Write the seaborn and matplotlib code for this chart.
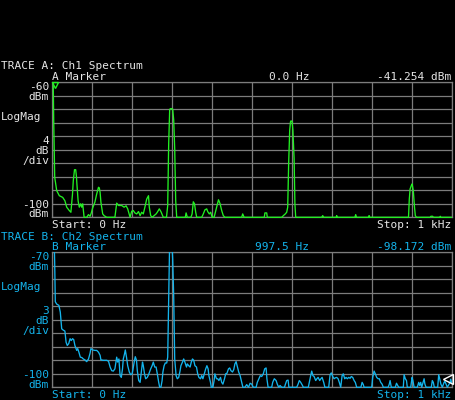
import numpy as np
import pandas as pd
import matplotlib
matplotlib.use("Agg")
import matplotlib.pyplot as plt
from matplotlib.patches import Rectangle
from matplotlib.transforms import offset_copy
import seaborn as sns

# -------- trace A: Ch1 spectrum (Hz, dBm) --------
freq_a = [0, 2.5, 5, 7.5, 12.5, 19, 27.5, 33, 37.5, 44, 48, 52, 54, 57, 60, 62, 63, 66, 69, 72.5,
          75, 77.5, 81, 87.5, 92, 96, 99, 102.5, 108, 112.5, 117, 119, 121, 123, 127.5, 131, 137.5,
          158, 162.5, 167, 175, 181, 186, 190, 196, 200, 204, 208, 212.5, 217, 221, 225, 229, 233,
          237.5, 242, 244, 247.5, 251, 256, 261, 264, 269, 273, 279, 287, 290, 292.5, 295, 297.5,
          300, 302.5, 305, 307.5, 310, 312.5, 334, 336, 339, 348, 351, 354, 357, 360, 362.5, 375,
          379, 383, 387.5, 390, 394, 397.5, 401, 406, 412.5, 417, 421, 425, 429, 433, 475, 477.5,
          481, 531.5, 533, 537.5, 539, 575, 577.5, 581, 584, 587.5, 590, 592.5, 595, 597, 598.5,
          601, 603, 606, 608, 610, 675, 677.5, 680, 711, 712.5, 714, 758, 760, 762, 792, 793.5,
          795, 892, 894, 896, 899, 901, 904, 907, 909, 912, 946, 948, 952.5, 954, 970, 971.5, 973,
          1000]
level_a = [-41.3, -48.0, -71.2, -88.1, -92.1, -93.6, -94.1, -95.1, -97.0, -98.0, -98.5, -93.1,
           -89.1, -85.9, -85.9, -88.1, -90.1, -95.1, -97.0, -96.0, -97.0, -96.0, -100, -100, -99.2,
           -99.7, -98.7, -97.2, -95.5, -93.1, -91.1, -91.3, -92.6, -95.5, -99.0, -99.5, -100, -100,
           -95.8, -96.5, -96.5, -97.0, -96.6, -97.5, -100, -98.2, -98.0, -98.7, -99.0, -98.3, -99.5,
           -98.5, -99.0, -97.0, -94.6, -93.6, -97.0, -99.5, -100, -99.5, -99.0, -98.5, -97.5, -98.3,
           -100, -100, -96.5, -78.0, -68.0, -67.8, -67.8, -68.0, -71.2, -79.7, -95.1, -100, -100,
           -98.7, -100, -100, -99.0, -95.4, -96.0, -98.5, -100, -100, -99.0, -97.8, -97.5, -98.3,
           -99.0, -98.5, -100, -100, -97.0, -94.8, -96.0, -98.0, -99.5, -100, -100, -99.0, -100,
           -100, -98.7, -98.7, -100, -100, -99.7, -99.3, -99.0, -98.5, -97.0, -83.6, -74.2, -71.7,
           -71.4, -71.7, -74.2, -82.6, -96.0, -100, -100, -99.5, -100, -100, -99.5, -100, -100,
           -99.2, -100, -100, -99.5, -100, -100, -94.6, -91.6, -90.6, -90.1, -92.1, -97.0, -99.5,
           -100, -100, -99.7, -99.7, -100, -100, -99.7, -100, -100]

# -------- trace B: Ch2 spectrum (Hz, dBm) --------
freq_b = [0, 5, 7.5, 9, 12.5, 18, 21.5, 25, 29, 33, 36, 39, 42.5, 46, 49, 52, 55, 58, 62.5, 65, 68,
          71.5, 75.5, 79, 83, 87.5, 92, 96, 98, 102.5, 108, 112.5, 117, 121, 123, 129, 137.5, 142,
          146, 150, 154, 158, 162.5, 165, 168, 171, 174, 177, 179, 182, 184, 187, 190, 194, 197.5,
          201, 203, 207, 209, 212, 214, 217.5, 221, 224, 227, 229, 232, 235, 239, 243, 247.5, 251,
          254, 257.5, 261, 264, 267.5, 270, 273, 276, 278, 281, 284, 287.5, 290, 292.5, 295, 297.5,
          300, 302.5, 305, 307.5, 311, 314, 317.5, 321, 323, 327, 330, 333, 337, 339, 342.5, 346,
          349, 352, 355, 358, 362, 365, 368, 372, 375, 378, 381.5, 385, 388, 391, 393, 397, 399,
          403, 406, 408, 412, 415, 418, 422, 425, 428, 432, 435, 438, 442, 445, 448, 452, 455, 458,
          461, 464, 467.5, 471, 474, 478, 483, 487.5, 492, 496, 500, 504, 511, 514, 518, 521.5, 525,
          529, 532.5, 536, 538, 541, 550, 552.5, 556.5, 561, 564, 567.5, 571, 575, 582, 584, 587.5,
          591, 593, 612.5, 616, 619, 622.5, 627, 629, 641.5, 644, 647.5, 650, 653, 656, 660, 663,
          666, 670, 673, 676, 680, 683, 692.5, 696, 699, 702.5, 706, 709, 712.5, 716, 719, 722.5,
          726, 729, 732.5, 736, 739, 742.5, 746, 749, 752.5, 756, 759, 762.5, 773, 776, 779, 781,
          800, 802.5, 806, 809, 812.5, 816, 819, 822.5, 826, 829, 841, 844, 846, 849, 859, 862, 865,
          867.5, 879, 881, 884, 887, 889, 897.5, 901, 903, 906, 914, 917.5, 920, 922.5, 925, 931,
          933, 936, 949, 951.5, 954, 956.5, 965, 967.5, 970, 973, 976.5, 981, 983, 986, 989, 996,
          997.5, 1000]
level_b = [-60.0, -62.0, -72.5, -81.0, -81.5, -81.8, -83.3, -87.0, -87.3, -87.5, -90.0, -90.7,
           -90.3, -89.2, -89.6, -89.2, -89.4, -90.7, -91.8, -91.4, -92.2, -93.3, -93.4, -93.7,
           -93.9, -94.3, -93.7, -92.4, -91.4, -91.7, -91.8, -91.8, -92.2, -92.9, -93.9, -94.0,
           -94.0, -94.2, -95.5, -96.3, -96.4, -95.9, -93.3, -94.4, -93.7, -97.4, -97.8, -95.9,
           -93.7, -92.6, -91.7, -93.3, -95.2, -96.6, -97.2, -97.0, -96.1, -94.0, -93.2, -94.0,
           -96.3, -98.5, -98.9, -96.6, -94.4, -95.2, -97.0, -98.1, -97.8, -97.0, -95.9, -95.2,
           -94.4, -95.5, -95.5, -97.0, -98.9, -100, -100, -98.5, -96.6, -95.2, -94.6, -94.6, -93.3,
           -80.6, -67.0, -66.0, -66.5, -71.6, -79.9, -93.7, -97.4, -98.1, -97.8, -96.3, -95.2,
           -94.4, -93.7, -94.4, -95.5, -94.8, -95.2, -95.5, -94.4, -93.7, -94.0, -95.2, -95.5,
           -97.0, -97.8, -98.1, -97.4, -98.1, -97.0, -95.9, -95.2, -95.9, -97.4, -98.9, -100, -100,
           -98.5, -97.0, -98.1, -98.1, -98.5, -97.8, -98.9, -99.3, -98.1, -97.0, -96.9, -95.9,
           -95.7, -96.3, -96.6, -96.1, -94.8, -94.3, -95.4, -96.6, -97.4, -98.5, -100, -100, -99.4,
           -100, -99.1, -99.3, -100, -100, -98.9, -98.1, -97.4, -97.6, -97.0, -95.9, -95.7, -98.1,
           -100, -100, -98.9, -98.1, -98.5, -99.3, -100, -99.6, -100, -100, -99.4, -98.5, -98.4,
           -100, -100, -99.3, -98.5, -98.9, -99.6, -100, -100, -98.9, -97.4, -96.4, -97.4, -97.6,
           -98.5, -98.1, -97.8, -98.5, -98.1, -97.8, -98.9, -100, -100, -97.2, -96.8, -97.6, -98.1,
           -97.9, -97.8, -98.1, -98.9, -100, -97.4, -97.0, -98.1, -97.8, -98.1, -97.8, -98.0,
           -97.6, -97.8, -98.5, -98.9, -100, -100, -98.9, -99.4, -100, -100, -97.8, -96.4, -97.0,
           -97.8, -98.1, -98.1, -98.9, -99.3, -100, -100, -99.3, -98.5, -100, -100, -99.1, -99.6,
           -100, -100, -97.2, -98.1, -98.5, -100, -100, -97.8, -98.5, -100, -100, -98.9, -99.6,
           -98.9, -100, -98.1, -99.3, -100, -100, -98.5, -98.9, -100, -100, -97.2, -98.1, -99.3,
           -100, -98.9, -98.7, -99.3, -100, -98.9, -98.2, -99.1]

marker_a = (0.0, -41.254)
marker_b = (997.5, -98.172)

df_a = pd.DataFrame({"freq": freq_a, "level": level_a})
df_b = pd.DataFrame({"freq": freq_b, "level": level_b})

GREEN = "#22f022"
BLUE = "#14b4ec"
WHITE = "#e6e6e6"
GRID = "#7c7c7c"

sns.set_style("dark", rc={"axes.facecolor": "black", "figure.facecolor": "black",
                          "grid.color": GRID, "axes.edgecolor": GRID})
plt.rcParams["font.family"] = ["DejaVu Sans Mono", "DejaVu Sans"]

W, H = 456, 400
fig = plt.figure(figsize=(W / 100, H / 100), dpi=100, facecolor="black")


def put(x, y, s, color, ha="left"):
    fig.text(x / W, 1 - y / H, s, color=color, ha=ha, va="center_baseline", fontsize=8.0)


def panel(top_px, df, top, step, color, marker, mstyle, mshift):
    ax = fig.add_axes([51.7 / W, 1 - (top_px + 135) / H, 400 / W, 135 / H])
    ax.set_facecolor("black")
    sns.lineplot(data=df, x="freq", y="level", ax=ax, color=color, lw=0.95,
                 estimator=None, sort=False)
    for ln in ax.lines:
        ln.set_clip_path(Rectangle((0, -0.012), 1, 1.012, transform=ax.transAxes))
        ln.set_zorder(3)
    tr = offset_copy(ax.transData, fig=fig, x=mshift[0], y=mshift[1], units="dots")
    ax.plot([marker[0]], [min(marker[1], top)], transform=tr, **mstyle, zorder=4, clip_on=False)
    ax.set_xlim(0, 1000)
    ax.set_ylim(top - 10 * step, top)
    ax.set_xticks(np.arange(0, 1001, 100))
    ax.set_yticks(np.linspace(top - 10 * step, top, 11))
    ax.grid(True, color=GRID, lw=0.9)
    ax.tick_params(length=0, labelbottom=False, labelleft=False)
    ax.set_xlabel("")
    ax.set_ylabel("")
    for sp in ax.spines.values():
        sp.set_color(GRID)
        sp.set_linewidth(0.9)
        sp.set_visible(True)
    return ax


panel(82.3, df_a, -60, 4, GREEN, marker_a,
      dict(marker="v", ms=5, mfc="none", mec=GREEN, mew=1.0, ls="none"), (3, -3))
panel(252.3, df_b, -70, 3, BLUE, marker_b,
      dict(marker="<", ms=7, mfc="none", mec="white", mew=1.0, ls="none"), (-3, 0))

# trace A texts
put(1, 65, "TRACE A: Ch1 Spectrum", WHITE)
put(52, 75.5, "A Marker", WHITE)
put(289, 75.5, f"{marker_a[0]:.1f} Hz", WHITE, ha="center")
put(451, 75.5, f"{marker_a[1]:.3f} dBm", WHITE, ha="right")
put(49, 86, "-60", WHITE, ha="right")
put(49, 96, "dBm", WHITE, ha="right")
put(1, 116, "LogMag", WHITE)
put(49, 139.5, "4", WHITE, ha="right")
put(49, 150, "dB", WHITE, ha="right")
put(49, 160, "/div", WHITE, ha="right")
put(49, 203.5, "-100", WHITE, ha="right")
put(49, 213.5, "dBm", WHITE, ha="right")
put(52, 223.5, "Start: 0 Hz", WHITE)
put(451, 223.5, "Stop: 1 kHz", WHITE, ha="right")

# trace B texts
put(1, 236, "TRACE B: Ch2 Spectrum", BLUE)
put(52, 246, "B Marker", BLUE)
put(282, 246, f"{marker_b[0]:.1f} Hz", BLUE, ha="center")
put(451, 246, f"{marker_b[1]:.3f} dBm", BLUE, ha="right")
put(49, 256, "-70", BLUE, ha="right")
put(49, 266.5, "dBm", BLUE, ha="right")
put(1, 286, "LogMag", BLUE)
put(49, 310, "3", BLUE, ha="right")
put(49, 320, "dB", BLUE, ha="right")
put(49, 330, "/div", BLUE, ha="right")
put(49, 373.5, "-100", BLUE, ha="right")
put(49, 383.5, "dBm", BLUE, ha="right")
put(52, 394, "Start: 0 Hz", BLUE)
put(451, 394, "Stop: 1 kHz", BLUE, ha="right")

fig.savefig("out.png", dpi=100, facecolor="black")
